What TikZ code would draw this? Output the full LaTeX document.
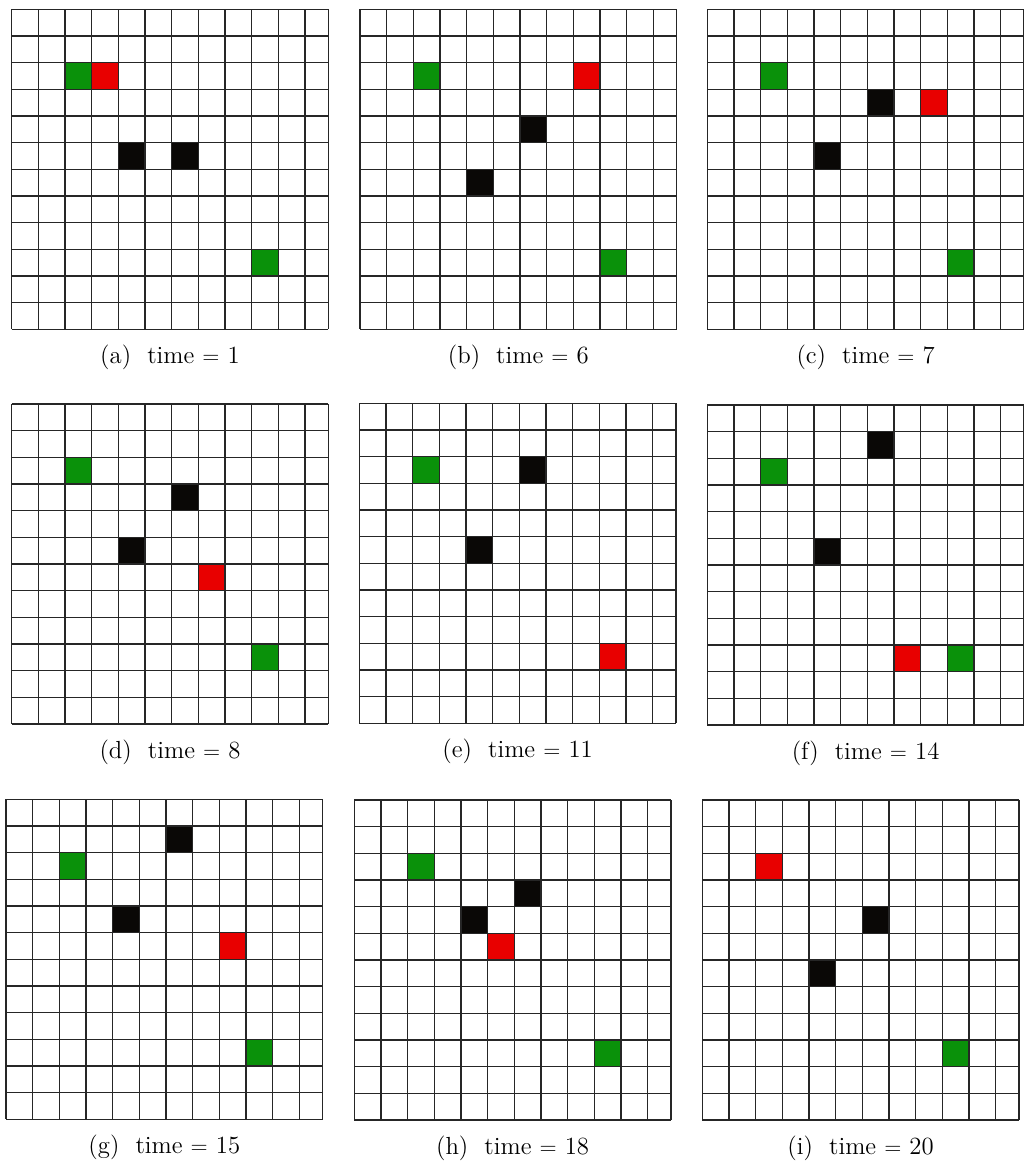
\documentclass[tikz,border=0pt]{standalone}
\usepackage{tikz}
\usepackage{amsmath}

\definecolor{cellgreen}{RGB}{10,145,10}
\definecolor{cellred}{RGB}{232,0,0}
\definecolor{cellblack}{RGB}{10,8,6}

\begin{document}
\begin{tikzpicture}[x=0.01875cm, y=-0.01875cm,
    every node/.style={font=\fontsize{13.2}{15}\selectfont},
    gridline/.style={draw=black!85, line width=0.65pt},
    target/.style={fill=cellgreen, draw=black!70, line width=0.5pt},
    agent/.style={fill=cellred, draw=black!70, line width=0.5pt},
    block/.style={fill=cellblack, draw=cellblack, line width=0.5pt},
    caption/.style={anchor=base, inner sep=0pt}]
  \useasboundingbox (0,0) rectangle (1024,1173);
  % one 12x12 world per snapshot: left, top, tag, time, occupied cells
  \foreach \px/\py/\lbl/\tm/\cells in {
      11.7/9.3/a/1/{target/2/2,agent/3/2,block/4/5,block/6/5,target/9/9},
      360/9.3/b/6/{target/2/2,agent/8/2,block/6/4,block/4/6,target/9/9},
      707.3/9.3/c/7/{target/2/2,block/6/3,agent/8/3,block/4/5,target/9/9},
      11.7/404/d/8/{target/2/2,block/6/3,block/4/5,agent/7/6,target/9/9},
      359.3/403.3/e/11/{target/2/2,block/6/2,block/4/5,agent/9/9},
      707.3/405/f/14/{block/6/1,target/2/2,block/4/5,agent/7/9,target/9/9},
      6/799.3/g/15/{block/6/1,target/2/2,block/4/4,agent/8/5,target/9/9},
      354.3/800/h/18/{target/2/2,block/6/3,block/4/4,agent/5/5,target/9/9},
      702.3/800/i/20/{agent/2/2,block/6/4,block/4/6,target/9/9}}{
    \begin{scope}[shift={(\px,\py)}, x=0.5cm, y=-0.5cm]
      \foreach \kind/\i/\j in \cells
        \path[\kind] (\i,\j) rectangle ++(1,1);
      \foreach \k in {0,...,11}
        \draw[gridline] (\k,0) -- (\k,12);
      \foreach \k in {0,...,12}
        \draw[gridline] (0,\k) -- (11.875,\k);
      \draw[gridline] (11.875,0) -- (11.875,12);
    \end{scope}
    \node[caption] (cap-\lbl) at (\px+158.3,\py+354) {(\lbl)\hspace{0.65em}time $=$ \tm};
  }
\end{tikzpicture}
\end{document}
